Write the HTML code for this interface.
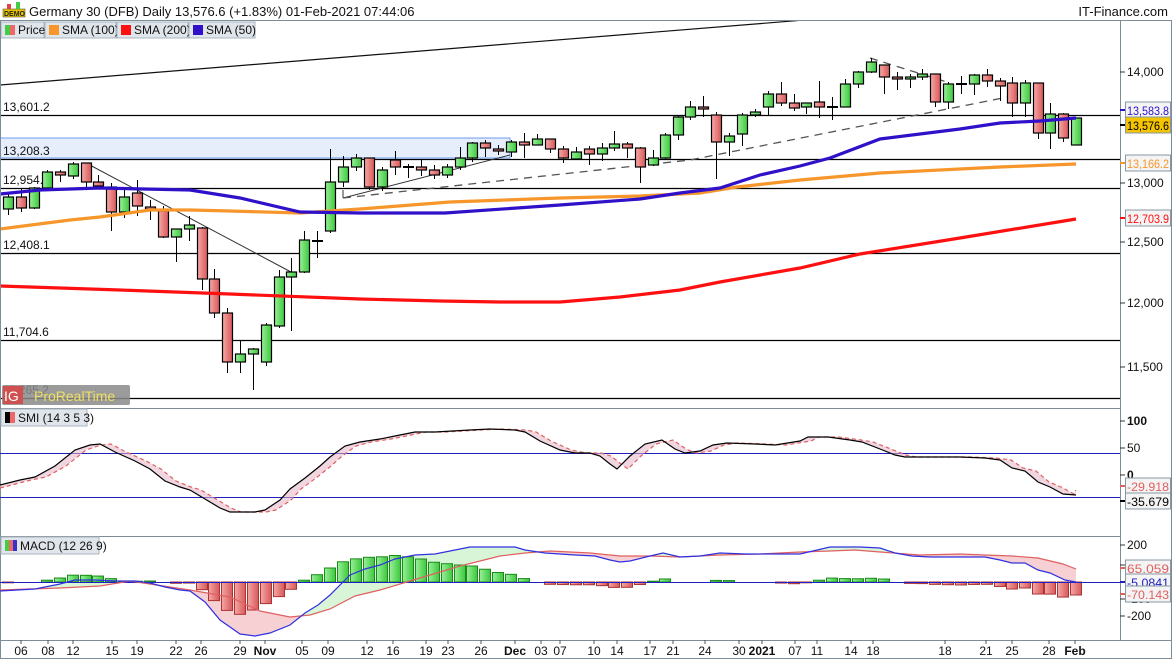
<!DOCTYPE html><html><head><meta charset="utf-8"><style>
body{margin:0;background:#fff;font-family:"Liberation Sans",sans-serif;}
#w{position:relative;width:1173px;height:660px;overflow:hidden;background:#fff}
</style></head><body><div id="w"><svg id="s" width="1173" height="660" xmlns="http://www.w3.org/2000/svg" font-family="Liberation Sans, sans-serif"></svg></div>
<script>
var S=document.getElementById('s'),h='';
h+='<defs><linearGradient id="gg" x1="0" x2="1"><stop offset="0" stop-color="#9af09a"/><stop offset="1" stop-color="#3cc83c"/></linearGradient><linearGradient id="rg" x1="0" x2="1"><stop offset="0" stop-color="#f5a8a8"/><stop offset="1" stop-color="#d85858"/></linearGradient><clipPath id="cm"><rect x="0" y="20" width="1120" height="388"/></clipPath></defs>';
function pl(p,c,w,x){return '<polyline points="'+p.map(function(a){return a.join(',')}).join(' ')+'" fill="none" stroke="'+c+'" stroke-width="'+w+'" '+(x||'')+'/>';}
// main panel
var g='<g clip-path="url(#cm)">';
g+='<rect x="0" y="138" width="510" height="20" fill="#e6edfb" stroke="#6d9cf0"/>';
[[115,'13,601.2'],[159,'13,208.3'],[188,'12,954.8'],[253,'12,408.1'],[340,'11,704.6'],[398,'11,265.2']].forEach(function(a){g+='<line x1="0" y1="'+a[0]+'.5" x2="1120" y2="'+a[0]+'.5" stroke="#000" stroke-width="1.2"/><text x="3" y="'+(a[0]-4)+'" font-size="12" fill="#111">'+a[1]+'</text>';});
g+='<line x1="0" y1="85" x2="1120" y2="-5.5" stroke="#111" stroke-width="1.2"/>';
g+='<line x1="86" y1="163" x2="291" y2="272" stroke="#333" stroke-width="1"/>';
g+='<line x1="343" y1="198" x2="510" y2="155" stroke="#333" stroke-width="1"/><line x1="343" y1="198" x2="343" y2="190" stroke="#333"/>';
g+='<polyline points="343,198 690,160 1018,95" fill="none" stroke="#555" stroke-width="1.3" stroke-dasharray="8,6"/>';
g+='<line x1="870" y1="58" x2="950" y2="83" stroke="#555" stroke-width="1.3" stroke-dasharray="8,6"/>';
var red=[[0,286],[120,290],[230,294],[360,299],[440,301],[500,302],[560,302],[620,297],[680,290],[720,282],[800,268],[860,254],[960,238],[1076,219]];
var ora=[[0,229],[70,220],[100,217],[150,210],[190,210],[230,211],[300,213],[360,209],[450,202],[560,198],[640,196],[700,193],[737,187],[800,180],[880,173],[960,169],[1000,167],[1076,164]];
var blu=[[0,194],[40,190],[100,188],[190,190],[240,198],[300,212],[360,213],[445,213],[560,205],[640,199],[680,193],[720,188],[760,175],[800,166],[830,158],[880,139],[960,129],[1000,123],[1040,121],[1076,118]];
var C=[[8,197,209,193,215,1],[21,197,208,188,212,0],[34,188,208,187,209,1],[47,172,188,170,190,1],[60,172,175,170,182,0],[73,164,176,162,179,1],[86,163,182,163,188,0],[98,182,186,175,188,0],[111,187,212,183,231,0],[124,197,212,188,218,1],[137,193,206,180,216,0],[150,207,209,200,220,0],[163,211,237,206,238,0],[176,229,237,229,262,1],[189,225,229,216,241,1],[202,228,279,227,290,0],[214,279,313,269,318,0],[227,313,362,308,373,0],[240,354,362,340,373,1],[253,349,354,348,390,1],[266,325,362,323,366,1],[279,277,326,270,328,1],[291,272,277,258,331,1],[304,240,272,231,273,1],[317,241,241,231,258,2],[330,182,231,149,233,1],[343,167,182,156,187,1],[356,158,167,154,171,1],[369,158,187,158,190,0],[382,170,187,167,191,1],[395,160,167,151,175,0],[408,167,167,164,178,2],[421,167,170,160,176,0],[434,170,175,165,179,0],[447,167,175,164,178,1],[460,158,167,147,170,1],[472,143,158,142,162,1],[485,143,148,140,157,0],[498,149,151,145,155,0],[511,142,152,140,157,1],[524,142,145,133,158,0],[537,139,145,134,145,1],[550,139,149,139,153,0],[563,149,158,146,163,0],[576,152,159,147,160,1],[589,149,154,146,165,0],[602,148,154,143,161,1],[614,144,148,131,151,1],[627,144,148,142,158,0],[640,148,167,147,183,0],[653,158,165,150,166,1],[665,135,158,133,160,1],[678,117,135,116,140,1],[690,107,117,101,120,1],[703,107,108,96,117,0],[716,115,142,112,179,0],[729,136,142,133,156,1],[742,115,134,113,146,1],[755,112,115,109,117,1],[768,94,107,91,115,1],[781,94,103,82,106,0],[794,103,108,94,111,0],[806,103,107,103,114,1],[819,102,107,81,118,0],[832,107,107,97,120,2],[845,84,107,79,107,1],[858,72,84,71,88,1],[871,62,72,58,73,1],[884,65,77,65,94,0],[897,77,79,72,90,0],[910,77,79,74,88,1],[922,74,77,69,80,1],[935,74,102,74,107,0],[948,84,102,82,109,1],[961,84,84,76,94,2],[974,75,84,74,95,1],[987,75,81,69,87,0],[1000,81,86,78,101,0],[1012,83,103,77,117,0],[1025,83,103,80,117,1],[1038,83,133,83,139,0],[1050,114,133,103,149,1],[1063,114,138,113,142,0],[1076,118,145,118,145,1]];
C.forEach(function(c){g+='<line x1="'+c[0]+'.5" y1="'+c[3]+'" x2="'+c[0]+'.5" y2="'+c[4]+'" stroke="#000"/>';
if(c[5]==2)g+='<line x1="'+(c[0]-5)+'" y1="'+c[1]+'" x2="'+(c[0]+6)+'" y2="'+c[1]+'" stroke="#000" stroke-width="2"/>';
else g+='<rect x="'+(c[0]-4.5)+'" y="'+c[1]+'" width="10" height="'+Math.max(2,c[2]-c[1])+'" fill="url(#'+(c[5]?'gg':'rg')+')" stroke="#000" stroke-width="1.2"/>';});
g+=pl(red,'#ff1010',3.2)+pl(ora,'#f7962b',3.2)+pl(blu,'#3010c8',3.2);
g+='</g>';h+=g;
// header
h+='<rect x="0" y="0" width="1173" height="21" fill="#fff"/>';
h+='<rect x="3" y="9" width="22" height="8" fill="#e8c400" stroke="#333" stroke-width="0.5"/><text x="4" y="16" font-size="7" font-weight="bold" fill="#222">DEMO</text><rect x="7" y="4" width="4" height="5" fill="#d44"/><rect x="16" y="2" width="4" height="7" fill="#4c4"/>';
h+='<text x="29" y="16" font-size="13" fill="#111">Germany 30 (DFB) Daily 13,576.6 (+1.83%) 01-Feb-2021 07:44:06</text>';
h+='<text x="1168" y="16" font-size="13" fill="#111" text-anchor="end">IT-Finance.com</text>';
var lg=[[1,44,'Price'],[45,116,'SMA (100)'],[117,188,'SMA (200)'],[189,255,'SMA (50)']];
var lc=['','#f7962b','#ff1010','#3010c8'];
lg.forEach(function(l,i){h+='<rect x="'+l[0]+'" y="22" width="'+(l[1]-l[0])+'" height="16" fill="#dfe5ea" stroke="#a9b4be"/>';
if(i==0){h+='<rect x="5" y="25" width="5" height="10" fill="#4c4"/><rect x="10" y="25" width="5" height="10" fill="#e66"/>';}else h+='<rect x="'+(l[0]+4)+'" y="25" width="10" height="10" fill="'+lc[i]+'"/>';
h+='<text x="'+(l[0]+17)+'" y="34" font-size="12" fill="#111">'+l[2]+'</text>';});
// panel borders
h+='<rect x="0.5" y="20.5" width="1171" height="638" fill="none" stroke="#7d8c99"/>';
h+='<line x1="1120.5" y1="20" x2="1120.5" y2="640" stroke="#7d8c99"/>';
h+='<line x1="0" y1="408.5" x2="1120" y2="408.5" stroke="#7d8c99"/><line x1="0" y1="536.5" x2="1120" y2="536.5" stroke="#7d8c99"/><line x1="0" y1="640.5" x2="1172" y2="640.5" stroke="#7d8c99"/>';
h+='<rect x="2" y="385" width="128" height="20" rx="2" fill="#8a8a8a" opacity="0.85"/><rect x="3" y="386" width="20" height="18" fill="#d05050"/><text x="4" y="401" font-size="14" fill="#fff">IG</text><text x="34" y="401" font-size="14" fill="#f0e060">ProRealTime</text>';
function ax(y,t,b){h+='<line x1="1120" y1="'+y+'" x2="1125" y2="'+y+'" stroke="#333"/><text x="1127" y="'+(y+4)+'" font-size="12" fill="#111" '+(b?'font-weight="bold" font-size="13"':'')+'>'+t+'</text>';}
ax(72,'14,000');ax(183,'13,000');ax(242,'12,500');ax(303,'12,000');ax(367,'11,500');
function bx(y,t,c,bg){h+='<line x1="1120" y1="'+y+'" x2="1126" y2="'+y+'" stroke="'+c+'" stroke-width="2"/><rect x="1125.5" y="'+(y-8)+'" width="45" height="16" fill="'+bg+'" stroke="#8899a6"/><text x="1127" y="'+(y+5)+'" font-size="12" fill="'+c+'" textLength="42" lengthAdjust="spacingAndGlyphs">'+t+'</text>';}
bx(110,'13,583.8','#3010c8','#f4f4f4');bx(125,'13,576.6','#000','#f5c400');bx(163,'13,166.2','#f7962b','#f4f4f4');bx(218,'12,703.9','#ff1010','#f4f4f4');
// SMI
h+='<rect x="1" y="409" width="86" height="17" fill="#dfe5ea" stroke="#a9b4be"/><rect x="5" y="412" width="5" height="11" fill="#000"/><rect x="10" y="412" width="5" height="11" fill="#e66"/><text x="18" y="422" font-size="12" fill="#111">SMI (14 3 5 3)</text>';
h+='<line x1="0" y1="453.5" x2="1120" y2="453.5" stroke="#2020c0"/><line x1="0" y1="497.5" x2="1120" y2="497.5" stroke="#2020c0"/>';
var smi=[[0,485],[20,480],[35,477],[55,466],[75,450],[90,445],[100,444],[115,452],[135,461],[150,469],[165,481],[180,487],[190,490],[205,499],[220,508],[230,512],[255,512],[265,510],[280,500],[290,489],[305,478],[320,466],[330,457],[345,446],[360,442],[380,439],[395,436],[415,432],[435,432],[470,430],[490,429],[515,430],[525,432],[540,441],[560,450],[575,453],[590,453],[600,456],[610,464],[617,469],[630,456],[645,444],[662,440],[675,449],[685,453],[700,451],[713,445],[727,443],[755,444],[775,445],[800,441],[808,437],[828,437],[850,440],[862,442],[880,449],[895,455],[905,457],[930,457],[960,457],[985,458],[1000,460],[1012,468],[1025,471],[1038,482],[1050,487],[1063,494],[1076,495]];
var sig=smi.map(function(p){return [Math.min(p[0]+11,1076),p[1]];});sig[0]=[0,488];
sig=sig.filter(function(p,i){return i==0||p[0]>sig[i-1][0]});
sig[sig.length-1]=[1076,490];
function poly(a,b,c){var p=a.concat(b.slice().reverse());return '<polygon points="'+p.map(function(q){return q.join(',')}).join(' ')+'" fill="'+c+'"/>';}
h+=poly(smi,sig,'rgba(225,180,200,0.55)');
h+=pl(sig,'#e06060',1.2,'stroke-dasharray="4,3"')+pl(smi,'#000',1.2);
ax(421,'100',1);ax(448,'50');ax(475,'0',1);
bx(486,'-29.918','#e06060','#f4f4f4');bx(501,'-35.679','#000','#f4f4f4');
// MACD
h+='<rect x="1" y="537" width="98" height="17" fill="#dfe5ea" stroke="#a9b4be"/><rect x="5" y="540" width="4" height="11" fill="#4c4"/><rect x="9" y="540" width="4" height="11" fill="#e66"/><rect x="13" y="540" width="4" height="11" fill="#33c"/><text x="20" y="550" font-size="12" fill="#111">MACD (12 26 9)</text>';
var mb=[[0,591],[35,589],[60,584],[75,580],[95,580],[115,581],[135,581],[150,583],[165,587],[180,590],[190,591],[205,602],[220,620],[240,634],[255,636],[270,633],[290,625],[305,613],[318,605],[330,595],[350,575],[365,569],[380,565],[395,559],[415,555],[435,554],[470,547],[490,547],[515,547],[525,550],[545,553],[575,555],[595,556],[610,560],[620,562],[630,561],[650,556],[663,553],[680,557],[700,556],[720,553],[745,554],[775,554],[800,554],[830,547],[860,547],[880,548],[895,553],[912,556],[930,557],[960,557],[985,557],[1000,560],[1012,563],[1025,563],[1038,570],[1050,573],[1065,580],[1076,582]];
var ms=[[0,590],[60,588],[100,586],[130,581],[170,587],[190,590],[230,597],[260,611],[290,617],[310,615],[330,609],[355,596],[380,590],[420,578],[460,566],[500,556],[525,553],[550,551],[590,553],[620,556],[650,556],[680,557],[720,555],[760,554],[800,552],[830,551],[855,550],[880,552],[920,555],[960,554],[985,555],[1012,556],[1038,558],[1063,564],[1076,569]];
function iy(a,x){for(var i=1;i<a.length;i++)if(x<=a[i][0]){var t=(x-a[i-1][0])/(a[i][0]-a[i-1][0]);return a[i-1][1]+t*(a[i][1]-a[i-1][1]);}return a[a.length-1][1];}
var fx=[];for(var x=0;x<=1076;x+=2)fx.push(x);fx.push(1076);
for(var i=1;i<fx.length;i++){var x0=fx[i-1],x1=fx[i],a0=iy(mb,x0),a1=iy(mb,x1),b0=iy(ms,x0),b1=iy(ms,x1);
h+='<polygon points="'+x0+','+a0+' '+x1+','+a1+' '+x1+','+b1+' '+x0+','+b0+'" fill="'+((a0+a1)<(b0+b1)?'#d8f5d8':'#f6d0d2')+'" stroke="none"/>';}
C.forEach(function(c){var x=c[0],d=iy(ms,x)-iy(mb,x);if(Math.abs(d)<0.6)return;var y=d>0?582-d:582,hh=Math.abs(d);
h+='<rect x="'+(x-5.5)+'" y="'+y+'" width="11" height="'+hh+'" fill="url(#'+(d>0?'gg':'rg')+')" stroke="'+(d>0?'#1a8a1a':'#a33')+'" stroke-width="1"/>';});
h+='<line x1="0" y1="582.5" x2="1120" y2="582.5" stroke="#2020c0"/>';
h+=pl(ms,'#e06060',1.2)+pl(mb,'#3030e0',1.2);
ax(545,'200');ax(565,'100');ax(599,'-100');ax(616,'-200');
bx(568,'65.059','#e06060','#f4f4f4');bx(582,'-5.0841','#2020c0','#f4f4f4');bx(594,'-70.143','#e06060','#f4f4f4');
var D=[[21,'06'],[48,'08'],[73,'12'],[112,'15'],[137,'19'],[176,'22'],[201,'26'],[240,'29'],[265,'Nov',1],[302,'05'],[328,'09'],[367,'12'],[393,'16'],[426,'19'],[448,'23'],[481,'26'],[515,'Dec',1],[541,'03'],[560,'07'],[594,'10'],[617,'14'],[650,'17'],[673,'21'],[705,'24'],[739,'30'],[762,'2021',1],[795,'07'],[817,'11'],[851,'14'],[873,'18'],[945,'18'],[986,'21'],[1012,'25'],[1049,'28'],[1075,'Feb',1]];
D.forEach(function(d){h+='<line x1="'+d[0]+'" y1="640" x2="'+d[0]+'" y2="644" stroke="#555"/><text x="'+d[0]+'" y="655" font-size="12" text-anchor="middle" fill="#111" '+(d[2]?'font-weight="bold" font-size="13"':'')+'>'+d[1]+'</text>';});
S.innerHTML=h;
</script></body></html>
